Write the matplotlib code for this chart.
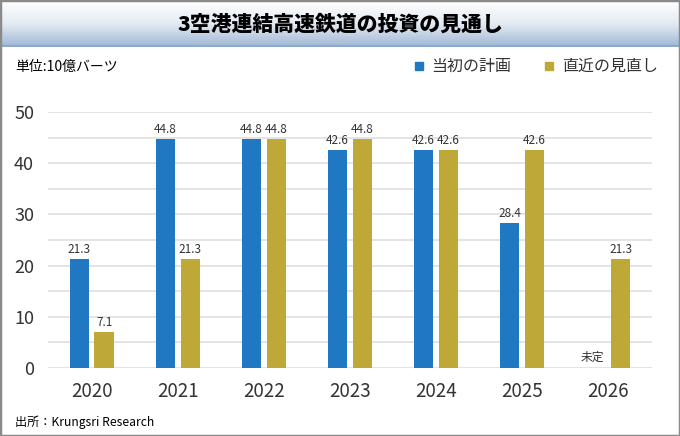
import numpy as np
import matplotlib.pyplot as plt
from matplotlib.patches import Rectangle
from matplotlib.colors import LinearSegmentedColormap

plt.rcParams['font.family'] = ['Noto Sans CJK JP', 'DejaVu Sans']

years = ["2020", "2021", "2022", "2023", "2024", "2025", "2026"]
plan = [21.3, 44.8, 44.8, 42.6, 42.6, 28.4, np.nan]
revised = [7.1, 21.3, 44.8, 44.8, 42.6, 42.6, 21.3]
yticks = [0, 10, 20, 30, 40, 50]

blue = "#1f78c1"
gold = "#bea838"
txt = "#333333"

fig = plt.figure(figsize=(6.8, 4.36), dpi=100)

# title banner with vertical gradient
ban = fig.add_axes([0, 1 - 47 / 436, 1, 47 / 436])
grad = np.linspace(0, 1, 100).reshape(-1, 1)
cmap = LinearSegmentedColormap.from_list("b", ["#ffffff", "#e4ebf3", "#9fb7d4"])
ban.imshow(grad, aspect="auto", cmap=cmap, extent=[0, 1, 0, 1], origin="upper")
ban.axhline(0.02, color="#8ca8ca", linewidth=1.5)
ban.set_axis_off()
fig.text(0.5, 1 - 24 / 436, "3空港連結高速鉄道の投資の見通し", ha="center", va="center",
         fontsize=15, fontweight="black", color="black")

ax = fig.add_axes([48 / 680, 1 - 368 / 436, 604 / 680, 256 / 436])
x = np.arange(len(years))
w = 0.23
off = 0.145
ax.bar(x - off, plan, w, color=blue, zorder=3)
ax.bar(x + off, revised, w, color=gold, zorder=3)

for i, v in enumerate(plan):
    if np.isnan(v):
        ax.text(x[i] - off + 0.1, 0.8, "未定", ha="right", va="bottom", fontsize=8.5, color=txt)
    else:
        ax.text(x[i] - off, v + 0.6, f"{v:.1f}", ha="center", va="bottom", fontsize=8.5, color=txt)
for i, v in enumerate(revised):
    ax.text(x[i] + off, v + 0.6, f"{v:.1f}", ha="center", va="bottom", fontsize=8.5, color=txt)

ax.set_xlim(-0.51, 6.51)
ax.set_ylim(0, 50)
ax.set_yticks(yticks)
ax.set_yticks(np.arange(0, 51, 5), minor=True)
ax.yaxis.grid(True, which="both", color="#e2e2e2", linewidth=1.3, zorder=0)
ax.set_xticks(x)
ax.set_xticklabels(years)
ax.tick_params(axis="both", length=0, colors=txt, labelsize=13)
ax.tick_params(axis="x", labelsize=13.5, pad=9)
ax.tick_params(axis="y", which="minor", length=0)
ax.tick_params(axis="y", pad=10)
for s in ax.spines.values():
    s.set_visible(False)
ax.set_axisbelow(True)

fig.text(15 / 680, 1 - 67 / 436, "単位:10億バーツ", ha="left", va="center", fontsize=10, color="black")
fig.patches.append(Rectangle((415 / 680, 1 - 70 / 436), 8 / 680, 8 / 436, color=blue,
                             transform=fig.transFigure, figure=fig))
fig.text(431 / 680, 1 - 66 / 436, "当初の計画", ha="left", va="center", fontsize=11.5, color=txt)
fig.patches.append(Rectangle((545 / 680, 1 - 70 / 436), 8 / 680, 8 / 436, color=gold,
                             transform=fig.transFigure, figure=fig))
fig.text(562 / 680, 1 - 66 / 436, "直近の見直し", ha="left", va="center", fontsize=11.5, color=txt)

fig.text(15 / 680, 1 - 422 / 436, "出所：Krungsri Research", ha="left", va="center", fontsize=8.7, color="black")

# outer border
fig.patches.append(Rectangle((0, 0), 1, 1, fill=False, edgecolor="#8a8a8a", linewidth=2.5,
                             transform=fig.transFigure, figure=fig))

fig.savefig("out.png", dpi=100)
